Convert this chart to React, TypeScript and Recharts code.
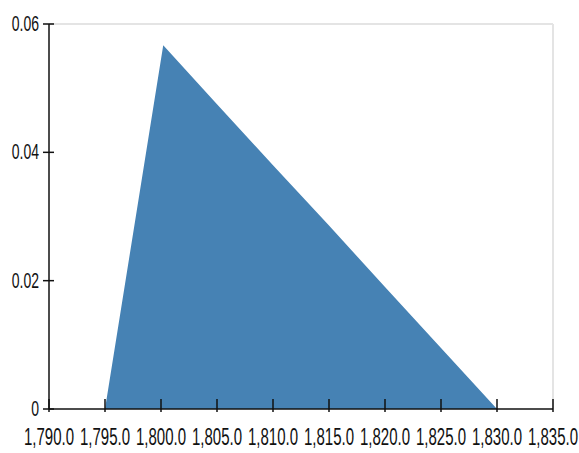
import { AreaChart, Area, XAxis, YAxis, ReferenceLine } from "recharts"

// density curve
const xValues = [1795.0, 1800.2, 1805.0, 1810.0, 1815.0, 1820.0, 1825.0, 1830.0]
const densities = [0, 0.0567, 0.0475, 0.038, 0.0286, 0.019, 0.0095, 0]

const xTicks = [1790, 1795, 1800, 1805, 1810, 1815, 1820, 1825, 1830, 1835]
const yTicks = [0, 0.02, 0.04, 0.06]

const data = xValues.map((x, i) => ({ x, density: densities[i] }))

const font = "'Liberation Sans', Arial, sans-serif"

const fmtX = (v: number) =>
  v.toLocaleString("en-US", { minimumFractionDigits: 1, maximumFractionDigits: 1 })
const fmtY = (v: number) => (v === 0 ? "0" : v.toFixed(2))

const XTick = (props: any) => {
  const { x, y, payload } = props
  return (
    <g>
      <line x1={x} x2={x} y1={y - 10} y2={y + 3} stroke="#111" strokeWidth={1.5} />
      <text
        transform={`translate(${x},${y + 36}) scale(1,1.6)`}
        textAnchor="middle"
        fontSize={15}
        fontFamily={font}
        fill="#111"
      >
        {fmtX(payload.value)}
      </text>
    </g>
  )
}

const YTick = (props: any) => {
  const { x, y, payload } = props
  return (
    <g>
      <line x1={x - 6} x2={x + 5} y1={y} y2={y} stroke="#111" strokeWidth={1.5} />
      <text
        transform={`translate(${x - 10},${y + 7}) scale(1,1.6)`}
        textAnchor="end"
        fontSize={14}
        fontFamily={font}
        fill="#111"
      >
        {fmtY(payload.value)}
      </text>
    </g>
  )
}

const App = () => {
  return (
    <div style={{ position: "absolute", left: 0, top: 0 }}>
      <AreaChart
        width={579}
        height={453}
        data={data}
        margin={{ top: 24, right: 26, bottom: 0, left: 0 }}
      >
        <ReferenceLine y={0.06} stroke="#e4e4e4" strokeWidth={2} />
        <ReferenceLine x={1835} stroke="#e4e4e4" strokeWidth={2} />
        <Area
          type="linear"
          dataKey="density"
          stroke="none"
          fill="#4682b4"
          fillOpacity={1}
          isAnimationActive={false}
        />
        <XAxis
          dataKey="x"
          type="number"
          domain={[1790, 1835]}
          ticks={xTicks}
          height={44}
          tickSize={0}
          tickMargin={0}
          tickLine={false}
          axisLine={{ stroke: "#111", strokeWidth: 1.5 }}
          tick={<XTick />}
          interval={0}
        />
        <YAxis
          type="number"
          domain={[0, 0.06]}
          ticks={yTicks}
          width={49}
          tickSize={0}
          tickMargin={0}
          tickLine={false}
          axisLine={{ stroke: "#111", strokeWidth: 1.5 }}
          tick={<YTick />}
          interval={0}
        />
      </AreaChart>
    </div>
  )
}

export default App
